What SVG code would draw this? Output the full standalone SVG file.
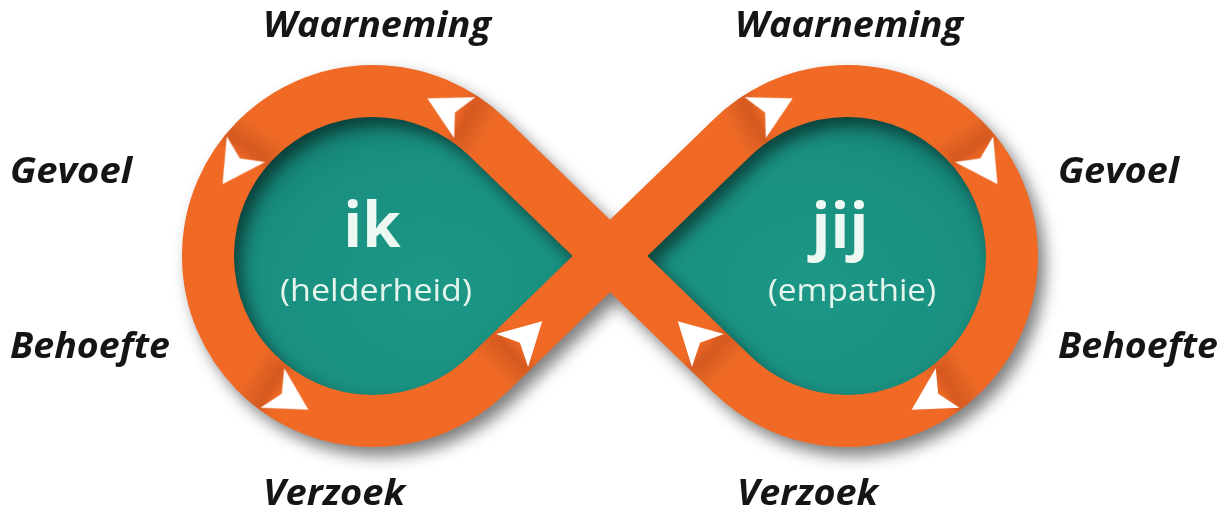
<svg xmlns="http://www.w3.org/2000/svg" width="1228" height="515" viewBox="0 0 1228 515">
<defs>
<style>
.lbl{font-family:"Open Sans","Liberation Sans",sans-serif;font-weight:700;font-style:italic;font-size:35px;fill:#151515}
.big{font-family:"Open Sans","Liberation Sans",sans-serif;font-weight:700;font-size:62px;fill:#ecf8f1;text-anchor:middle}
.sub{font-family:"Open Sans","Liberation Sans",sans-serif;font-weight:400;font-size:31px;fill:#e4f5ee;text-anchor:middle}
.band{fill:none;stroke:#f06a26;stroke-width:52}
.arr{fill:#ffffff}
</style>
<radialGradient id="tealL" cx="0.55" cy="0.6" r="0.6">
<stop offset="0" stop-color="#1c9786"/>
<stop offset="0.7" stop-color="#198f80"/>
<stop offset="1" stop-color="#12786c"/>
</radialGradient>
<radialGradient id="tealR" cx="0.5" cy="0.6" r="0.6">
<stop offset="0" stop-color="#1c9786"/>
<stop offset="0.7" stop-color="#198f80"/>
<stop offset="1" stop-color="#12786c"/>
</radialGradient>
<filter id="shadow" x="-20%" y="-20%" width="140%" height="140%">
<feGaussianBlur stdDeviation="8"/>
</filter>
<filter id="soft" x="-50%" y="-50%" width="200%" height="200%">
<feGaussianBlur stdDeviation="4"/>
</filter>
<linearGradient id="seam" x1="0" y1="0" x2="1" y2="0">
<stop offset="0" stop-color="#000" stop-opacity="0"/>
<stop offset="1" stop-color="#5a1c00" stop-opacity="0.2"/>
</linearGradient>
<mask id="bandMask" maskUnits="userSpaceOnUse" x="0" y="0" width="1228" height="515">
<path d="M 487.9 137.6 A 165 165 0 1 0 487.9 374.4 L 732.1 137.6 A 165 165 0 1 1 732.1 374.4 Z" fill="none" stroke="#fff" stroke-width="52"/>
</mask>
<path id="arrowShape" d="M 24 0 L -18 -23 L -7 0 L -18 23 Z"/>
<g id="seamShape"><rect x="-44" y="-30" width="30" height="60" fill="url(#seam)" filter="url(#soft)"/></g>
</defs>
<rect width="1228" height="515" fill="#ffffff"/>

<g id="node-ik">
<path d="M 610 256 L 487.9 137.6 A 165 165 0 1 0 487.9 374.4 Z" fill="url(#tealL)"/>
</g>
<g id="node-jij">
<path d="M 610 256 L 732.1 137.6 A 165 165 0 1 1 732.1 374.4 Z" fill="url(#tealR)"/>
</g>

<g id="band-shadow" opacity="0.5">
<path d="M 487.9 137.6 A 165 165 0 1 0 487.9 374.4 L 732.1 137.6 A 165 165 0 1 1 732.1 374.4 Z" fill="none" stroke="#000" stroke-width="52" transform="translate(7 9)" filter="url(#shadow)"/>
</g>

<g id="connectors">
<path class="band" d="M 487.9 137.6 A 165 165 0 1 0 487.9 374.4 L 732.1 137.6 A 165 165 0 1 1 732.1 374.4 Z"/>
<g mask="url(#bandMask)">
<use href="#seamShape" transform="translate(448.7 109.4) rotate(-152.7)"/>
<use href="#seamShape" transform="translate(235.9 164.2) rotate(123.8)"/>
<use href="#seamShape" transform="translate(287.8 397.3) rotate(31.1)"/>
<use href="#seamShape" transform="translate(525 338) rotate(-44.1)"/>
<use href="#seamShape" transform="translate(771.3 109.4) rotate(-27.3)"/>
<use href="#seamShape" transform="translate(984.1 164.2) rotate(56.2)"/>
<use href="#seamShape" transform="translate(695 338) rotate(-135.9)"/>
<use href="#seamShape" transform="translate(932.2 397.3) rotate(148.9)"/>
</g>
<use class="arr" href="#arrowShape" transform="translate(448.7 109.4) rotate(-152.7)"/>
<use class="arr" href="#arrowShape" transform="translate(235.9 164.2) rotate(123.8)"/>
<use class="arr" href="#arrowShape" transform="translate(287.8 397.3) rotate(31.1)"/>
<use class="arr" href="#arrowShape" transform="translate(525 338) rotate(-44.1)"/>
<use class="arr" href="#arrowShape" transform="translate(771.3 109.4) rotate(-27.3)"/>
<use class="arr" href="#arrowShape" transform="translate(984.1 164.2) rotate(56.2)"/>
<use class="arr" href="#arrowShape" transform="translate(695 338) rotate(-135.9)"/>
<use class="arr" href="#arrowShape" transform="translate(932.2 397.3) rotate(148.9)"/>
</g>

<g id="text-ik">
<text class="big" x="372" y="247">ik</text>
<text class="sub" x="376" y="301" textLength="192" lengthAdjust="spacingAndGlyphs">(helderheid)</text>
</g>
<g id="text-jij">
<text class="big" x="840" y="248">jij</text>
<text class="sub" x="852" y="301" textLength="168" lengthAdjust="spacingAndGlyphs">(empathie)</text>
</g>

<g id="labels-left">
<text class="lbl" x="263" y="37" textLength="228" lengthAdjust="spacingAndGlyphs">Waarneming</text>
<text class="lbl" x="10" y="183" textLength="122" lengthAdjust="spacingAndGlyphs">Gevoel</text>
<text class="lbl" x="10" y="358" textLength="160" lengthAdjust="spacingAndGlyphs">Behoefte</text>
<text class="lbl" x="263" y="505" textLength="142" lengthAdjust="spacingAndGlyphs">Verzoek</text>
</g>
<g id="labels-right">
<text class="lbl" x="735" y="37" textLength="228" lengthAdjust="spacingAndGlyphs">Waarneming</text>
<text class="lbl" x="1058" y="183" textLength="121" lengthAdjust="spacingAndGlyphs">Gevoel</text>
<text class="lbl" x="1058" y="358" textLength="160" lengthAdjust="spacingAndGlyphs">Behoefte</text>
<text class="lbl" x="737" y="505" textLength="141" lengthAdjust="spacingAndGlyphs">Verzoek</text>
</g>
</svg>
